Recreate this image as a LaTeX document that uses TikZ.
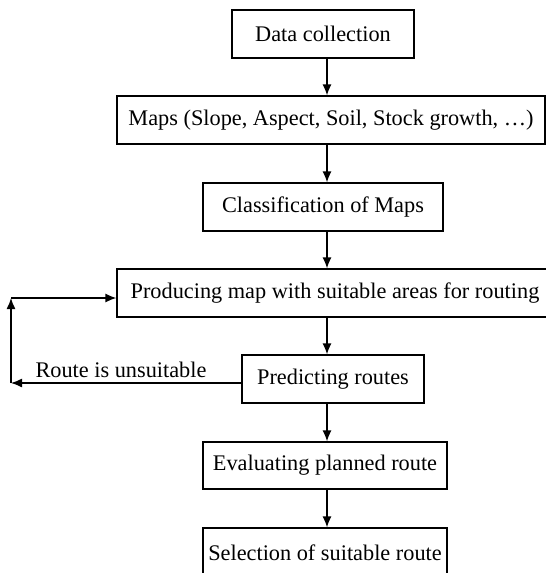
\documentclass[tikz,border=0pt]{standalone}
\usepackage{fontspec}
\setmainfont{Liberation Serif}
\usetikzlibrary{arrows.meta}
\begin{document}
\begin{tikzpicture}[x=1pt,y=1pt,
  box/.style={draw,line width=1.3pt,minimum height=48pt,inner sep=0pt,font=\fontsize{22.3}{26}\selectfont},
  arr/.style={line width=1.3pt,-{Latex[length=11pt,width=9pt]}},
  lbl/.style={font=\fontsize{22.3}{26}\selectfont,inner sep=0pt}]
\useasboundingbox (0,0) rectangle (546,-573);
\node[box,minimum width=182pt] (n1) at (323,-34) {Data collection};
\node[box,minimum width=428pt] (n2) at (331,-120) {Maps (Slope, Aspect, Soil, Stock growth, \ldots)};
\node[box,minimum width=240pt] (n3) at (323,-207) {Classification of Maps};
\node[box,minimum width=436pt] (n4) at (335,-293) {Producing map with suitable areas for routing};
\node[box,minimum width=182pt] (n5) at (333,-379) {Predicting routes};
\node[box,minimum width=244pt,minimum height=47pt] (n6) at (325,-465.5) {Evaluating planned route};
\node[box,minimum width=244pt,minimum height=50pt] (n7) at (325,-553) {Selection of suitable route};
\coordinate (ax) at (327,0);
\coordinate (lt) at (11,-298);
\coordinate (lb) at (11,-383);
\draw[arr] (ax |- n1.south) -- (ax |- n2.north);
\draw[arr] (ax |- n2.south) -- (ax |- n3.north);
\draw[arr] (ax |- n3.south) -- (ax |- n4.north);
\draw[arr] (ax |- n4.south) -- (ax |- n5.north);
\draw[arr] (ax |- n5.south) -- (ax |- n6.north);
\draw[arr] (ax |- n6.south) -- (ax |- n7.north);
\draw[arr] (lb -| n5.west) -- (lb);
\draw[arr] (lb) -- (lt);
\draw[arr] (lt) -- (lt -| n4.west);
\node[lbl] (rl) at (121,-370) {Route is unsuitable};
\end{tikzpicture}
\end{document}
